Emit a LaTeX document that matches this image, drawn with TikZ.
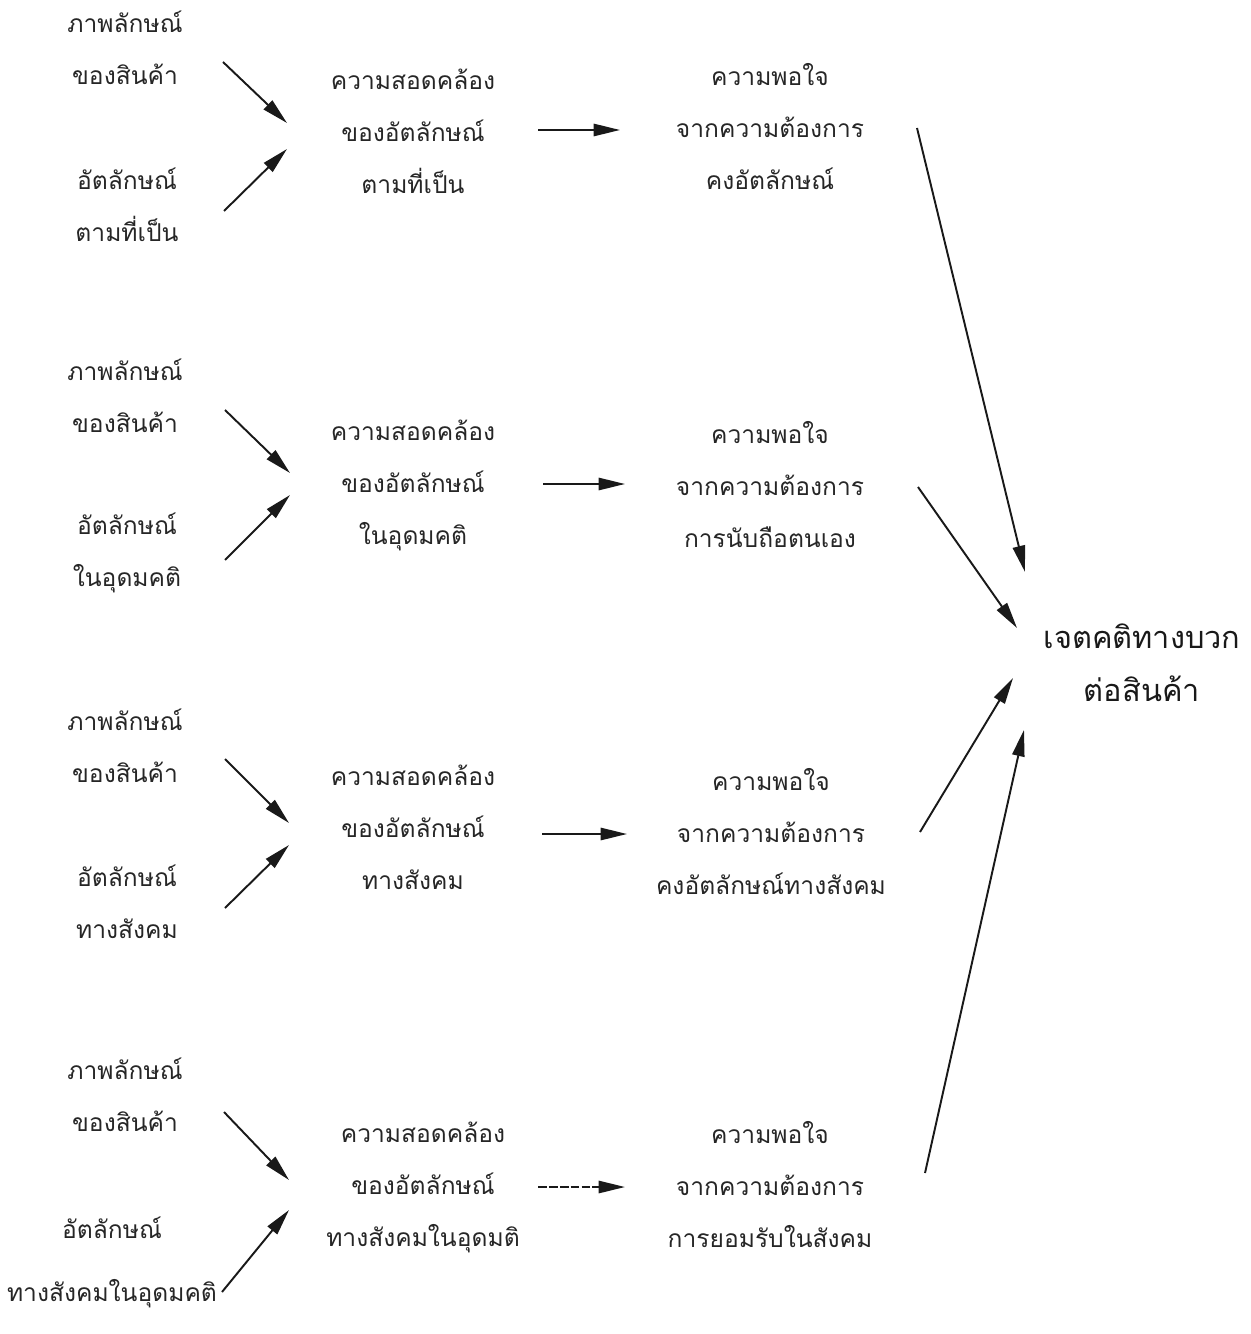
\documentclass[tikz,border=0pt]{standalone}
\usepackage{fontspec}
\newfontfamily\thaifont[Script=Thai]{Loma}
\usepackage{tikz}
\usetikzlibrary{arrows.meta}

\begin{document}
\begin{tikzpicture}[
    x=0.02cm, y=-0.02cm,
    >={Triangle[length=15pt, width=7pt]},
    every node/.style={font=\thaifont\fontsize{14}{29.6}\selectfont, text=black!85, align=center, inner sep=0pt},
    goal/.style={font=\thaifont\fontsize{17.5}{30}\selectfont, text=black!90},
    arr/.style={->, line width=1.1pt, black!90},
]
\useasboundingbox (0,0) rectangle (1250,1334);

% === Row 1: actual self ===
\node (img1) at (125,48) {ภาพลักษณ์\\ของสินค้า};
\node (self1) at (127,205) {อัตลักษณ์\\ตามที่เป็น};
\node (cong1) at (413,131) {ความสอดคล้อง\\ของอัตลักษณ์\\ตามที่เป็น};
\node (sat1) at (770,127) {ความพอใจ\\จากความต้องการ\\คงอัตลักษณ์};

% === Row 2: ideal self ===
\node (img2) at (125,396) {ภาพลักษณ์\\ของสินค้า};
\node (self2) at (127,553) {อัตลักษณ์\\ในอุดมคติ};
\node (cong2) at (413,485) {ความสอดคล้อง\\ของอัตลักษณ์\\ในอุดมคติ};
\node (sat2) at (770,485) {ความพอใจ\\จากความต้องการ\\การนับถือตนเอง};

% === Row 3: social self ===
\node (img3) at (125,746) {ภาพลักษณ์\\ของสินค้า};
\node (self3) at (127,902) {อัตลักษณ์\\ทางสังคม};
\node (cong3) at (413,827) {ความสอดคล้อง\\ของอัตลักษณ์\\ทางสังคม};
\node (sat3) at (771,832) {ความพอใจ\\จากความต้องการ\\คงอัตลักษณ์ทางสังคม};

% === Row 4: ideal social self ===
\node (img4) at (125,1095) {ภาพลักษณ์\\ของสินค้า};
\node (self4) at (112,1262) {อัตลักษณ์\\[0.22cm]ทางสังคมในอุดมคติ};
\node (cong4) at (423,1187) {ความสอดคล้อง\\ของอัตลักษณ์\\ทางสังคมในอุดมติ};
\node (sat4) at (770,1185) {ความพอใจ\\จากความต้องการ\\การยอมรับในสังคม};

% Attitude
\node[goal] (att) at (1142,663) {เจตคติทางบวก\\ต่อสินค้า};

% === Inputs into congruity ===
\draw[arr] ([shift={(98,14)}]img1.center) -- ([shift={(-126,-8)}]cong1.center);
\draw[arr] ([shift={(97,6)}]self1.center) -- ([shift={(-126,18)}]cong1.center);
\draw[arr] ([shift={(100,14)}]img2.center) -- ([shift={(-123,-12)}]cong2.center);
\draw[arr] ([shift={(98,7)}]self2.center) -- ([shift={(-123,10)}]cong2.center);
\draw[arr] ([shift={(100,13)}]img3.center) -- ([shift={(-124,-4)}]cong3.center);
\draw[arr] ([shift={(98,6)}]self3.center) -- ([shift={(-124,18)}]cong3.center);
\draw[arr] ([shift={(99,17)}]img4.center) -- ([shift={(-134,-7)}]cong4.center);
\draw[arr] ([shift={(110,30)}]self4.center) -- ([shift={(-134,23)}]cong4.center);

% === Congruity -> satisfaction ===
\draw[arr] ([shift={(125,-1)}]cong1.center) -- ([shift={(-150,3)}]sat1.center);
\draw[arr] ([shift={(130,-1)}]cong2.center) -- ([shift={(-145,-1)}]sat2.center);
\draw[arr] ([shift={(129,7)}]cong3.center) -- ([shift={(-144,2)}]sat3.center);
\draw[arr, dash pattern=on 5pt off 1.2pt] ([shift={(115,0)}]cong4.center) -- ([shift={(-145,2)}]sat4.center);

% === Satisfaction -> attitude ===
\draw[arr] ([shift={(147,1)}]sat1.center) -- ([shift={(-117,-91)}]att.center);
\draw[arr] ([shift={(148,2)}]sat2.center) -- ([shift={(-125,-35)}]att.center);
\draw[arr] ([shift={(149,0)}]sat3.center) -- ([shift={(-129,15)}]att.center);
\draw[arr] ([shift={(155,-12)}]sat4.center) -- ([shift={(-118,67)}]att.center);

\end{tikzpicture}
\end{document}
